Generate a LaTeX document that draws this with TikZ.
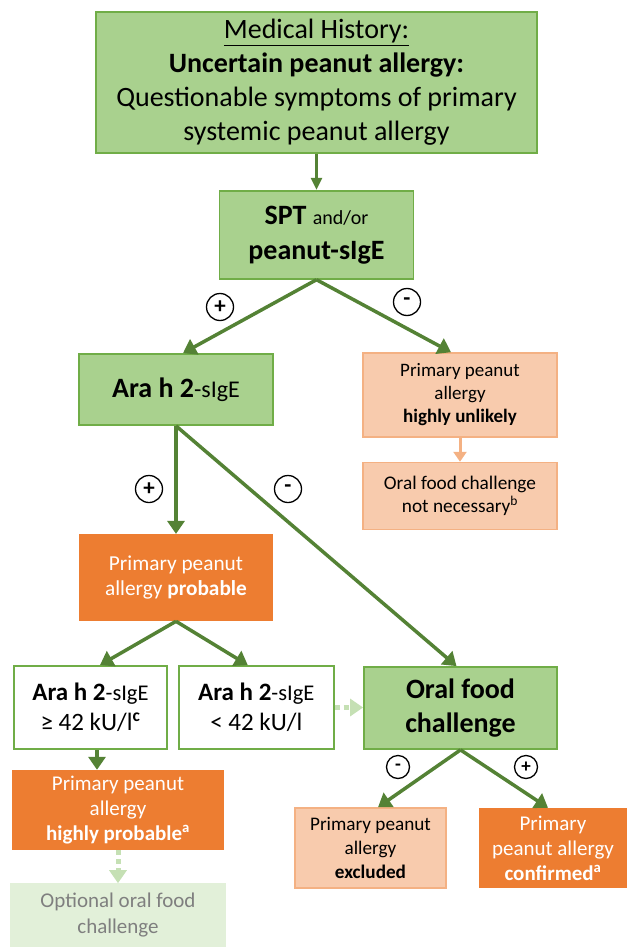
\documentclass[tikz,border=0pt]{standalone}
\usepackage{fontspec}
\setmainfont{Carlito}
\usepackage{tikz}
\usetikzlibrary{arrows.meta,positioning}
\definecolor{leaf}{HTML}{A9D18E}
\definecolor{leafline}{HTML}{70AD47}
\definecolor{moss}{HTML}{548235}
\definecolor{peach}{HTML}{F8CBAD}
\definecolor{peachline}{HTML}{F4B183}
\definecolor{pumpkin}{HTML}{ED7D31}
\definecolor{mint}{HTML}{E2F0D9}
\definecolor{mintline}{HTML}{C5E0B4}
\definecolor{ash}{HTML}{7F7F7F}

\begin{document}
\begin{tikzpicture}[x=1pt,y=-1pt,
  box/.style={inner sep=0pt,align=center,text=black},
  greenbox/.style={box,draw=leafline,line width=1.8pt,fill=leaf},
  whitebox/.style={box,draw=leafline,line width=1.8pt,fill=white},
  peachbox/.style={box,draw=peachline,line width=1.5pt,fill=peach},
  orangebox/.style={box,fill=pumpkin,text=white},
  mintbox/.style={box,fill=mint,text=ash},
  arr/.style={-{Triangle[length=13pt,width=17pt]},color=moss,line width=3.5pt},
  thinarr/.style={-{Triangle[length=12pt,width=11pt]},color=moss,line width=2.5pt},
  peacharr/.style={-{Triangle[length=10pt,width=13pt]},color=peachline,line width=3pt},
  dotarr/.style={-{Triangle[length=13pt,width=17pt]},color=mintline,line width=5pt,dash pattern=on 5pt off 4pt},
  sign/.style={circle,draw=black,line width=1.3pt,inner sep=0pt,minimum size=27pt,font=\fontsize{23}{23}\selectfont\bfseries}]
  \useasboundingbox (0,0) rectangle (626,947);
  \node[greenbox,minimum width=441pt,minimum height=141pt,font=\fontsize{28}{34}\selectfont] (hist) at (316.5,82.5) {\underline{Medical History:}\\\textbf{Uncertain peanut allergy:}\\Questionable symptoms of primary\\systemic peanut allergy};
  \node[greenbox,below=36pt of hist,minimum width=194pt,minimum height=88pt,font=\fontsize{28}{35}\selectfont] (spt) {\textbf{SPT} {\fontsize{20}{35}\selectfont and/or}\\\textbf{peanut-sIgE}};
  \node[greenbox,minimum width=194pt,minimum height=71pt,font=\fontsize{28}{30}\selectfont] (ara) at (176,389.5) {\textbf{Ara h 2}{\fontsize{24}{30}\selectfont-sIgE}};
  \node[peachbox,minimum width=194pt,minimum height=84pt,font=\fontsize{19}{23}\selectfont] (unlikely) at (460,395) {Primary peanut\\allergy\\\textbf{highly unlikely}};
  \node[peachbox,below=24pt of unlikely,minimum width=194pt,minimum height=67pt,font=\fontsize{19.3}{23}\selectfont] (notnec) {Oral food challenge\\not necessary\textsuperscript{b}};
  \node[orangebox,below=108pt of ara,minimum width=194pt,minimum height=87pt,font=\fontsize{21.3}{25}\selectfont] (probable) {Primary peanut\\allergy \textbf{probable}};
  \node[whitebox,minimum width=153pt,minimum height=83pt,font=\fontsize{25}{30}\selectfont] (hi42) at (90.5,707.5) {\textbf{Ara h 2}{\fontsize{22.5}{30}\selectfont-sIgE}\\≥ 42 kU/l\textsuperscript{\textbf{c}}};
  \node[whitebox,right=10pt of hi42,minimum width=155pt,minimum height=83pt,font=\fontsize{25}{30}\selectfont] (lo42) {\textbf{Ara h 2}{\fontsize{22.5}{30}\selectfont-sIgE}\\< 42 kU/l};
  \node[greenbox,minimum width=193pt,minimum height=82pt,font=\fontsize{28}{34}\selectfont\bfseries] (ofc) at (460.5,708) {Oral food\\challenge};
  \node[orangebox,minimum width=212pt,minimum height=80pt,font=\fontsize{21}{25}\selectfont] (hiprob) at (118,810) {Primary peanut\\allergy\\\textbf{highly probable\textsuperscript{a}}};
  \node[mintbox,below=33pt of hiprob,minimum width=216pt,minimum height=64pt,font=\fontsize{21}{26}\selectfont] (optional) {Optional oral food\\challenge};
  \node[peachbox,minimum width=151pt,minimum height=80pt,font=\fontsize{19.2}{24}\selectfont] (excluded) at (370.5,848) {Primary peanut\\allergy\\\textbf{excluded}};
  \node[orangebox,minimum width=148pt,minimum height=80pt,font=\fontsize{21}{25}\selectfont] (confirmed) at (553,848) {Primary\\peanut allergy\\\textbf{confirmed\textsuperscript{a}}};
  % connectors
  \draw[thinarr] (hist) -- (spt);
  \draw[arr] (spt.south) -- ([xshift=7pt]ara.north);
  \draw[arr] (spt.south) -- ([xshift=-9pt]unlikely.north);
  \draw[peacharr] (unlikely) -- (notnec);
  \draw[arr] (ara.south) -- (probable.north);
  \draw[arr] (ara.south) -- ([xshift=-4pt]ofc.north);
  \draw[arr] (probable.south) -- ([xshift=9.5pt]hi42.north);
  \draw[arr] (probable.south) -- ([xshift=-8.5pt]lo42.north);
  \draw[arr] ([xshift=6.5pt]hi42.south) -- ([xshift=-21pt]hiprob.north);
  \draw[dotarr] (hiprob) -- (optional);
  \draw[dotarr] (lo42.east) -- (lo42.east -| ofc.west);
  \draw[arr] (ofc.south) -- ([xshift=7.5pt]excluded.north);
  \draw[arr] (ofc.south) -- ([xshift=-5pt]confirmed.north);
  % signs
  \node[sign] (s1) at (220,307) {+};
  \node[sign] (s2) at (407,302) {-};
  \node[sign] (s3) at (149,489) {+};
  \node[sign] (s4) at (288,489) {-};
  \node[sign,minimum size=23pt,font=\fontsize{19}{19}\selectfont\bfseries] (s5) at (398,767) {-};
  \node[sign,minimum size=23pt,font=\fontsize{19}{19}\selectfont\bfseries] (s6) at (526,767) {+};
\end{tikzpicture}
\end{document}
